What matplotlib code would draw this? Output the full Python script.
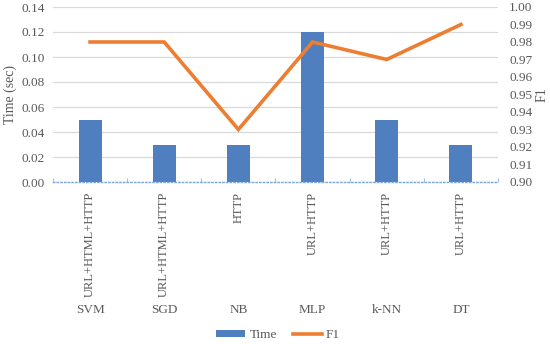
import numpy as np
import matplotlib
matplotlib.use("Agg")
from matplotlib import pyplot as plt
from matplotlib import transforms

plt.rcParams['font.family'] = ['Liberation Serif', 'DejaVu Serif']

# datos
modelos = ['SVM', 'SGD', 'NB', 'MLP', 'k-NN', 'DT']
features = ['URL+HTML+HTTP', 'URL+HTML+HTTP', 'HTTP', 'URL+HTTP', 'URL+HTTP', 'URL+HTTP']
tiempo = [0.05, 0.03, 0.03, 0.12, 0.05, 0.03]
f1 = [0.98, 0.98, 0.93, 0.98, 0.97, 0.99]

gris = '#595959'
azul = '#4F7FBE'
naranja = '#ED7D31'
fs = 9.5

fig = plt.figure(figsize=(5.5, 3.44), dpi=100)
ax = fig.add_axes([53/550, 1-182/344, 445/550, 175/344])
x = np.arange(len(modelos))

ax.bar(x, tiempo, width=0.31, color=azul, zorder=2, label='Time')
ax.set_xlim(-0.5, len(modelos)-0.5)
ax.set_ylim(0, 0.14)
ax.set_yticks(np.arange(0, 0.141, 0.02))
ax.set_yticklabels(['%.2f' % v for v in np.arange(0, 0.141, 0.02)])
ax.yaxis.grid(True, color='#D9D9D9', linewidth=0.9, zorder=0)
ax.set_axisbelow(True)
ax.set_ylabel('Time (sec)', color=gris, fontsize=10, labelpad=3)

ax.set_xticks(x)
ax.set_xticklabels(features, rotation=90, va='top')
ax.set_xticks(np.arange(-0.5, len(modelos)), minor=True)
ax.tick_params(axis='x', which='major', length=0, pad=7, labelsize=9, labelcolor=gris)
ax.tick_params(axis='x', which='minor', length=3, color='#9DC3E6', width=0.8, direction='in')
ax.tick_params(axis='y', length=0, labelsize=fs, labelcolor=gris, pad=6)
for s in ['top', 'right', 'left']:
    ax.spines[s].set_visible(False)
ax.spines['bottom'].set_color('#7FA9DC')
ax.spines['bottom'].set_linestyle(':')
ax.spines['bottom'].set_linewidth(1.0)

ax2 = ax.twinx()
ax2.plot(x, f1, color=naranja, linewidth=2.6, label='F1', solid_joinstyle='miter')
ax2.set_ylim(0.90, 1.00)
ax2.set_yticks(np.arange(0.90, 1.001, 0.01))
ax2.set_yticklabels(['%.2f' % v for v in np.arange(0.90, 1.001, 0.01)])
ax2.tick_params(axis='y', length=0, labelsize=fs, labelcolor=gris, pad=8)
for s in ['top', 'right', 'left', 'bottom']:
    ax2.spines[s].set_visible(False)
ax2.set_ylabel('F1', color=gris, fontsize=10, labelpad=2)

# etiquetas del segundo nivel
trans = transforms.blended_transform_factory(ax.transData, fig.transFigure)
for i, m in enumerate(modelos):
    ax.text(x[i], 1-310/344, m, transform=trans, ha='center', va='center',
            fontsize=fs, color=gris)

h1, l1 = ax.get_legend_handles_labels()
h2, l2 = ax2.get_legend_handles_labels()
fig.legend(h1 + h2, l1 + l2, loc='center', bbox_to_anchor=(278/550, 1-335/344),
           ncol=2, frameon=False, fontsize=fs, labelcolor=gris,
           handlelength=2.2, handleheight=0.5, handletextpad=0.3, columnspacing=1.2)

fig.savefig('out.png', dpi=100)
